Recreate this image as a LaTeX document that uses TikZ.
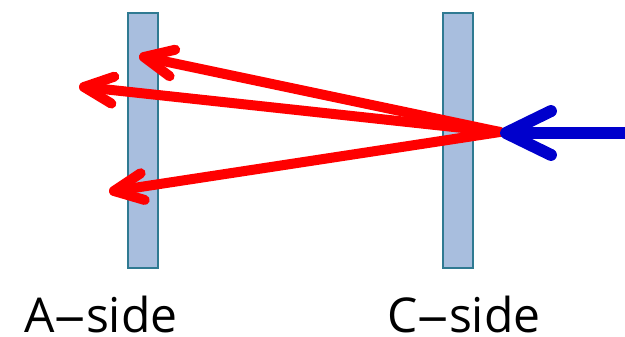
\documentclass[tikz,border=0pt]{standalone}
\usepackage{fontspec}
\setmainfont{Open Sans}
\usetikzlibrary{calc}
\definecolor{barfill}{HTML}{A8BEDE}
\definecolor{barline}{HTML}{2F7A92}
\definecolor{rayred}{HTML}{FF0000}
\definecolor{beamblue}{HTML}{0000CC}
\begin{document}
\begin{tikzpicture}[x=1pt,y=-1pt,
  bar/.style={draw=barline,line width=2pt,fill=barfill,minimum width=30pt,minimum height=255pt,inner sep=0pt,anchor=north west},
  ray/.style={draw=rayred,line width=10pt,line cap=round,line join=round},
  beam/.style={draw=beamblue,line width=12pt,line cap=round,line join=round},
  lbl/.style={font=\fontsize{48}{52}\selectfont,anchor=base,inner sep=0pt}]
\useasboundingbox (0,0) rectangle (625,337);
\node[bar] (abar) at (127,12) {};
\node[bar] (cbar) at (442,12) {};
\coordinate (apex) at (500,132);
\coordinate (t1) at (144,57);
\coordinate (t2) at (84,87);
\coordinate (t3) at (114,191);
\coordinate (btip) at (506,133);
\coordinate (bend) at (632,133);
% red rays
\foreach \t in {t1,t2,t3}{
  \draw[ray] (apex) -- (\t);
  \draw[ray] ($(\t)!32pt!25:(apex)$) -- (\t) -- ($(\t)!32pt!-25:(apex)$);
}
% blue beam
\draw[beam,line cap=butt] (bend) -- (btip);
\draw[beam] ($(btip)!50pt!26:(bend)$) -- (btip) -- ($(btip)!50pt!-26:(bend)$);
\node[lbl] (alabel) at (101,332) {A{\scalebox{1.3}[1]{–}}side};
\node[lbl] (clabel) at (464,332) {C{\scalebox{1.3}[1]{–}}side};
\end{tikzpicture}
\end{document}
